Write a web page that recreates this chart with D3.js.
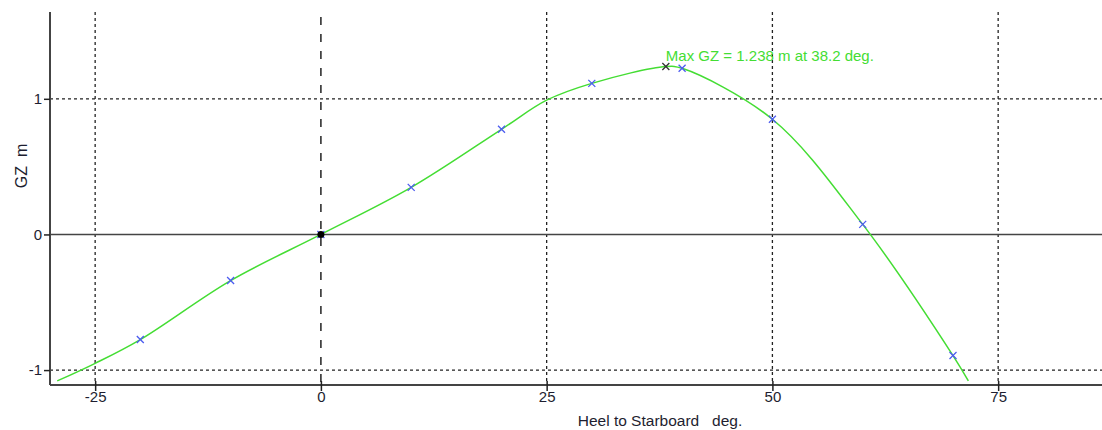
<!DOCTYPE html>
<html><head><meta charset="utf-8">
<script src="https://cdn.jsdelivr.net/npm/d3@7"></script>
<style>
body{margin:0;background:#fff;}
svg{display:block;font-family:"Liberation Sans",Arial,sans-serif;}
</style></head>
<body><svg id="c" width="1102" height="430"></svg>
<script>
// Data
const heelPoints = [-20, -10, 0, 10, 20, 30, 40, 50, 60, 70];
const gzPoints   = [-0.775, -0.34, 0, 0.347, 0.775, 1.114, 1.225, 0.849, 0.074, -0.893];
const curveHeel  = [-29.2, -25, -20, -10, 0, 10, 20, 25, 30, 38.2, 40, 50, 60, 70, 71.7];
const curveGZ    = [-1.08, -0.95, -0.775, -0.34, 0, 0.347, 0.775, 0.99, 1.114, 1.238, 1.225, 0.849, 0.074, -0.893, -1.08];
const maxHeel = 38.2, maxGZ = 1.238;
const xTicks = [-25, 0, 25, 50, 75];
const yTicks = [-1, 0, 1];
const xLabel = "Heel to Starboard   deg.";
const yLabel = "GZ  m";
const maxLabel = "Max GZ = 1.238 m at 38.2 deg.";

const svg = d3.select("#c");
const pL = 50, pR = 1102, pT = 12, pB = 385;
const x = d3.scaleLinear().domain([-30, 86.5]).range([pL, pR]);
const y = d3.scaleLinear().domain([-1.11, 1.64]).range([pB, pT]);
const fmt = d => String(d);

const ink = "#222";
const txt = "#1e1e30";
// vertical grid
svg.append("g").selectAll("line").data(xTicks.filter(d => d !== 0)).join("line")
  .attr("x1", d => x(d)).attr("x2", d => x(d)).attr("y1", pT).attr("y2", pB)
  .attr("stroke", ink).attr("stroke-width", 1.3).attr("stroke-dasharray", "3,3");
svg.append("line").attr("x1", x(0)).attr("x2", x(0)).attr("y1", pT + 5).attr("y2", pB)
  .attr("stroke", ink).attr("stroke-width", 1.5).attr("stroke-dasharray", "8,9");
// horizontal grid
svg.append("g").selectAll("line").data(yTicks.filter(d => d !== 0)).join("line")
  .attr("x1", pL).attr("x2", pR).attr("y1", d => y(d)).attr("y2", d => y(d))
  .attr("stroke", ink).attr("stroke-width", 1.3).attr("stroke-dasharray", "3,3");
// zero line
svg.append("line").attr("x1", pL).attr("x2", pR).attr("y1", y(0)).attr("y2", y(0))
  .attr("stroke", "#444").attr("stroke-width", 1.5);

// axes
const xAxis = d3.axisBottom(x).tickValues(xTicks).tickFormat(fmt).tickSize(6).tickPadding(0);
const gx = svg.append("g").attr("transform", `translate(0,${pB})`).call(xAxis);
gx.select(".domain").attr("stroke", "#444").attr("stroke-width", 2).attr("d", `M${pL},0H${pR}`);
gx.selectAll(".tick line").attr("stroke", ink).attr("stroke-width", 1.5).attr("y1", -4);
gx.selectAll(".tick text").attr("fill", txt).style("font-size", "15px").style("font-family", "Liberation Sans, Arial, sans-serif");

const yAxis = d3.axisLeft(y).tickValues(yTicks).tickFormat(fmt).tickSize(6).tickPadding(2);
const gy = svg.append("g").attr("transform", `translate(${pL},0)`).call(yAxis);
gy.select(".domain").attr("stroke", "#444").attr("stroke-width", 2).attr("d", `M0,${pT}V${pB}`);
gy.selectAll(".tick line").attr("stroke", ink).attr("stroke-width", 1.5);
gy.selectAll(".tick text").attr("fill", txt).style("font-size", "15px").style("font-family", "Liberation Sans, Arial, sans-serif");

// axis labels
svg.append("text").attr("x", 660).attr("y", 426).attr("text-anchor", "middle")
  .attr("fill", txt).style("font-size", "15.5px").style("white-space", "pre").text(xLabel);
svg.append("text").attr("transform", "translate(27,166) rotate(-90)").attr("text-anchor", "middle")
  .attr("fill", txt).style("font-size", "16px").style("white-space", "pre").text(yLabel);

// curve
const pts = curveHeel.map((h, i) => [h, curveGZ[i]]);
svg.append("path").datum(pts)
  .attr("d", d3.line().x(d => x(d[0])).y(d => y(d[1])).curve(d3.curveCatmullRom.alpha(0.5)))
  .attr("fill", "none").attr("stroke", "#44dd33").attr("stroke-width", 1.5);

// markers
const cross = (g, cx, cy, col, s) => {
  g.append("path").attr("d", `M${cx - s},${cy - s}L${cx + s},${cy + s}M${cx - s},${cy + s}L${cx + s},${cy - s}`)
    .attr("stroke", col).attr("stroke-width", 1.3).attr("fill", "none");
};
const mg = svg.append("g");
heelPoints.forEach((h, i) => cross(mg, x(h), y(gzPoints[i]), "#4d5cf0", 3.5));
cross(mg, x(maxHeel), y(maxGZ), "#333", 3.5);
svg.append("circle").attr("cx", x(0)).attr("cy", y(0)).attr("r", 3.5).attr("fill", "#000");

// max label
svg.append("text").attr("x", x(maxHeel)).attr("y", 61)
  .attr("fill", "#44dd33").style("font-size", "15px").text(maxLabel);
</script></body></html>
